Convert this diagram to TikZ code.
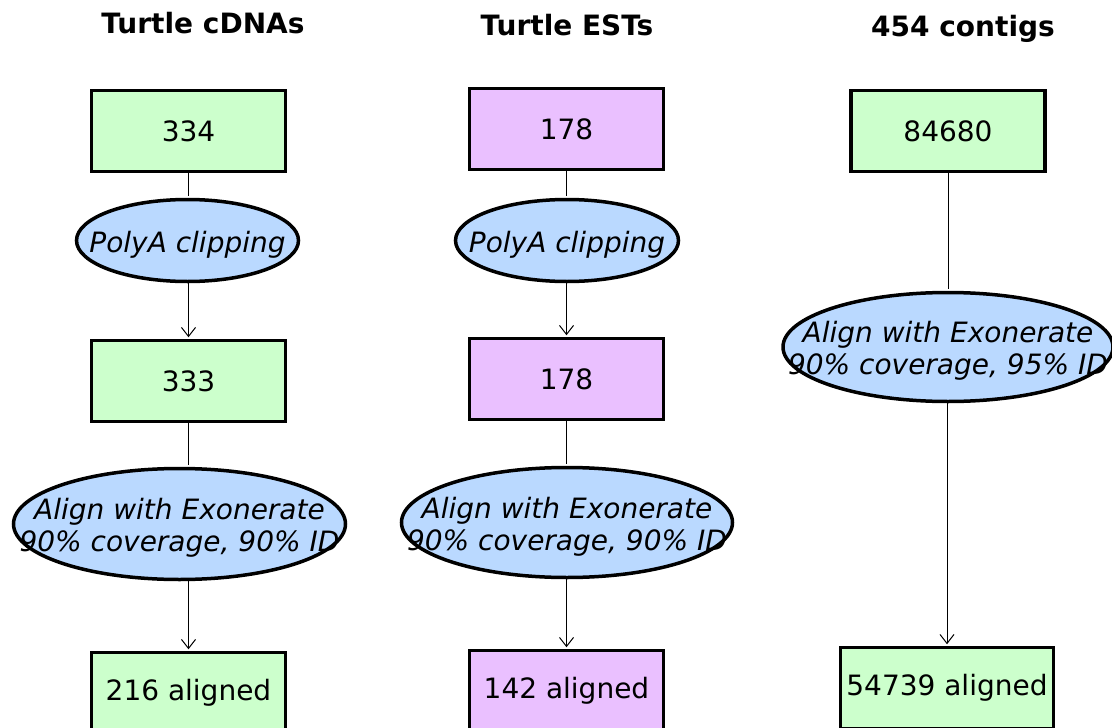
\documentclass[tikz,border=0pt]{standalone}
\usepackage{fontspec}
\setmainfont{DejaVu Sans}
\usetikzlibrary{arrows.meta,shapes.geometric}

\definecolor{cdnagreen}{HTML}{CCFFCC}
\definecolor{estpurple}{HTML}{EAC0FF}
\definecolor{stepblue}{HTML}{BAD9FF}

\begin{document}
\begin{tikzpicture}[x=1pt,y=-1pt,font=\fontsize{28}{32}\selectfont,>={Straight Barb[length=9pt,width=14pt]},
  countbox/.style={rectangle,draw=black,line width=3.5pt,minimum width=194pt,minimum height=81pt,inner xsep=6pt},
  stepoval/.style={ellipse,draw=black,line width=3.5pt,fill=stepblue,inner sep=0pt},
  steplabel/.style={align=center,inner sep=0pt,yshift=-4pt,font=\fontsize{28}{32}\selectfont\itshape},
  coltitle/.style={anchor=base,font=\fontsize{28}{32}\selectfont\bfseries},
  link/.style={draw=black,line width=1pt,shorten >=1.5pt}]
\clip (0,0) rectangle (1112,728);
% column titles
\node[coltitle] (tcdna) at (203,33) {Turtle cDNAs};
\node[coltitle] (test) at (567,35) {Turtle ESTs};
\node[coltitle] (tcontig) at (963,36) {454 contigs};
% turtle cDNAs
\node[countbox,fill=cdnagreen] (cdna1) at (188.5,131) {334};
\node[stepoval,minimum width=222pt,minimum height=82pt,label={[steplabel]center:PolyA clipping}] (clip1) at (187.5,240.5) {};
\node[countbox,fill=cdnagreen] (cdna2) at (188.5,381) {333};
\node[stepoval,minimum width=332pt,minimum height=111pt,label={[steplabel]center:{Align with Exonerate\\90\% coverage, 90\% ID}}] (align1) at (179.5,524) {};
\node[countbox,fill=cdnagreen] (cdna3) at (188.5,693) {216 aligned};
% turtle ESTs
\node[countbox,fill=estpurple] (est1) at (566.5,129) {178};
\node[stepoval,minimum width=223pt,minimum height=82pt,label={[steplabel]center:PolyA clipping}] (clip2) at (567,240.5) {};
\node[countbox,fill=estpurple] (est2) at (566.5,379) {178};
\node[stepoval,minimum width=331pt,minimum height=110pt,label={[steplabel]center:{Align with Exonerate\\90\% coverage, 90\% ID}}] (align2) at (567,522.5) {};
\node[countbox,fill=estpurple] (est3) at (566.5,691) {142 aligned};
% 454 contigs
\node[countbox,fill=cdnagreen] (contig1) at (948,131) {84680};
\node[stepoval,minimum width=330pt,minimum height=109pt,label={[steplabel]center:{Align with Exonerate\\90\% coverage, 95\% ID}}] (align3) at (948,347) {};
\node[countbox,fill=cdnagreen] (contig3) at (947,688) {54739 aligned};
% connectors
\draw[link] (cdna1.south) -- (cdna1.south |- clip1.north);
\draw[link,->] (cdna1.south |- clip1.south) -- (cdna2.north);
\draw[link] (cdna2.south) -- (cdna2.south |- align1.north);
\draw[link,->] (cdna3.north |- align1.south) -- (cdna3.north);
\draw[link] (est1.south) -- (est1.south |- clip2.north);
\draw[link,->] (est1.south |- clip2.south) -- (est2.north);
\draw[link] (est2.south) -- (est2.south |- align2.north);
\draw[link,->] (est3.north |- align2.south) -- (est3.north);
\draw[link] (contig1.south) -- (contig1.south |- align3.north);
\draw[link,->] (contig3.north |- align3.south) -- (contig3.north);
\end{tikzpicture}
\end{document}
